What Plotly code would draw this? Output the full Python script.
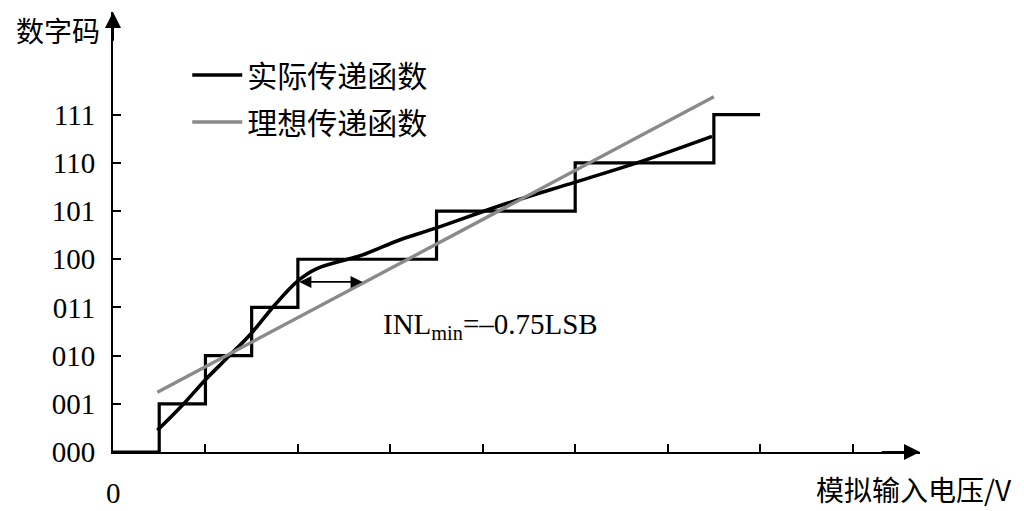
import plotly.graph_objects as go

# staircase of the real converter (step edges, hv shape)
stair_x = [0, 0.5, 1, 1.5, 2, 3.5, 5, 6.5, 7]
stair_y = [0, 1, 2, 3, 4, 5, 6, 7, 7]

# smooth actual transfer curve
real_x = [0.48, 0.75, 1.0, 1.25, 1.5, 1.75, 2.0, 2.2, 2.7, 3.1, 3.5, 4.2, 5.0, 5.7, 6.48]
real_y = [0.45, 0.97, 1.5, 1.98, 2.47, 3.05, 3.55, 3.8, 4.09, 4.4, 4.65, 5.12, 5.6, 6.02, 6.55]

# ideal transfer line
ideal_x = [0.48, 6.5]
ideal_y = [1.24, 7.37]

code_vals = [0, 1, 2, 3, 4, 5, 6, 7]
code_labels = ["000", "001", "010", "011", "100", "101", "110", "111"]
volt_ticks = [1, 2, 3, 4, 5, 6, 7, 8]

SERIF = "Liberation Serif, Noto Sans CJK SC"
CJK = "Noto Sans CJK SC"

fig = go.Figure()

fig.add_trace(go.Scatter(
    x=stair_x, y=stair_y, mode="lines", line_shape="hv",
    line=dict(color="black", width=3.2), showlegend=False, hoverinfo="skip",
))
fig.add_trace(go.Scatter(
    x=real_x, y=real_y, mode="lines", line_shape="spline",
    line=dict(color="black", width=3.6), name="实际传递函数", legendgroup="a",
))
fig.add_trace(go.Scatter(
    x=ideal_x, y=ideal_y, mode="lines",
    line=dict(color="#8a8a8a", width=3.4), name="理想传递函数", legendgroup="b",
))

# axis arrowheads
fig.add_annotation(x=8.73, y=0, ax=8.3, ay=0, xref="x", yref="y", axref="x", ayref="y",
                   text="", showarrow=True, arrowhead=2, arrowsize=1.6, arrowwidth=2,
                   arrowcolor="black")
fig.add_annotation(x=0, y=9.13, ax=0, ay=8.5, xref="x", yref="y", axref="x", ayref="y",
                   text="", showarrow=True, arrowhead=2, arrowsize=1.6, arrowwidth=2,
                   arrowcolor="black")

# INL double arrow
fig.add_annotation(x=2.7, y=3.53, ax=2.0, ay=3.53, xref="x", yref="y", axref="x", ayref="y",
                   text="", showarrow=True, arrowhead=2, startarrowhead=2, arrowside="end+start",
                   arrowsize=1.5, startarrowsize=1.5, arrowwidth=1.6, arrowcolor="black")
fig.add_annotation(x=4.08, y=2.61, xref="x", yref="y", showarrow=False,
                   text="INL<sub>min</sub>=–0.75LSB",
                   font=dict(family=SERIF, size=29, color="black"))

# axis titles and origin
fig.add_annotation(x=0, y=-0.093, xref="paper", yref="paper", xanchor="center",
                   yanchor="middle", showarrow=False, text="0",
                   font=dict(family=SERIF, size=29, color="black"))
fig.add_annotation(x=-0.014, y=0.96, xref="paper", yref="paper", xanchor="right",
                   yanchor="middle", showarrow=False, text="数字码",
                   font=dict(family=CJK, size=28, color="black"))
fig.add_annotation(x=1.117, y=-0.084, xref="paper", yref="paper", xanchor="right",
                   yanchor="middle", showarrow=False, text="模拟输入电压/V",
                   font=dict(family=CJK, size=28, color="black"))

fig.update_xaxes(
    range=[0, 8.73], showgrid=False, zeroline=False, showline=True,
    linecolor="black", linewidth=2, ticks="inside", ticklen=8, tickwidth=2,
    tickcolor="black", tickvals=volt_ticks, showticklabels=False,
)
fig.update_yaxes(
    range=[0, 9.13], showgrid=False, zeroline=False, showline=True,
    linecolor="black", linewidth=2, ticks="inside", ticklen=8, tickwidth=2,
    tickcolor="black", tickvals=code_vals, ticktext=code_labels,
    ticklabelstandoff=10, tickfont=dict(family=SERIF, size=29, color="black"),
)

# page body has an 8px margin, so the figure is 8px smaller and shifted
fig.update_layout(
    width=1016, height=503,
    margin=dict(l=105, r=104, t=4, b=59),
    plot_bgcolor="white", paper_bgcolor="white",
    legend=dict(x=0.092, y=0.916, xanchor="left", yanchor="top",
                font=dict(family=CJK, size=30, color="black"),
                bgcolor="rgba(0,0,0,0)", tracegroupgap=5, itemwidth=50),
)

fig.write_html("out.html")
